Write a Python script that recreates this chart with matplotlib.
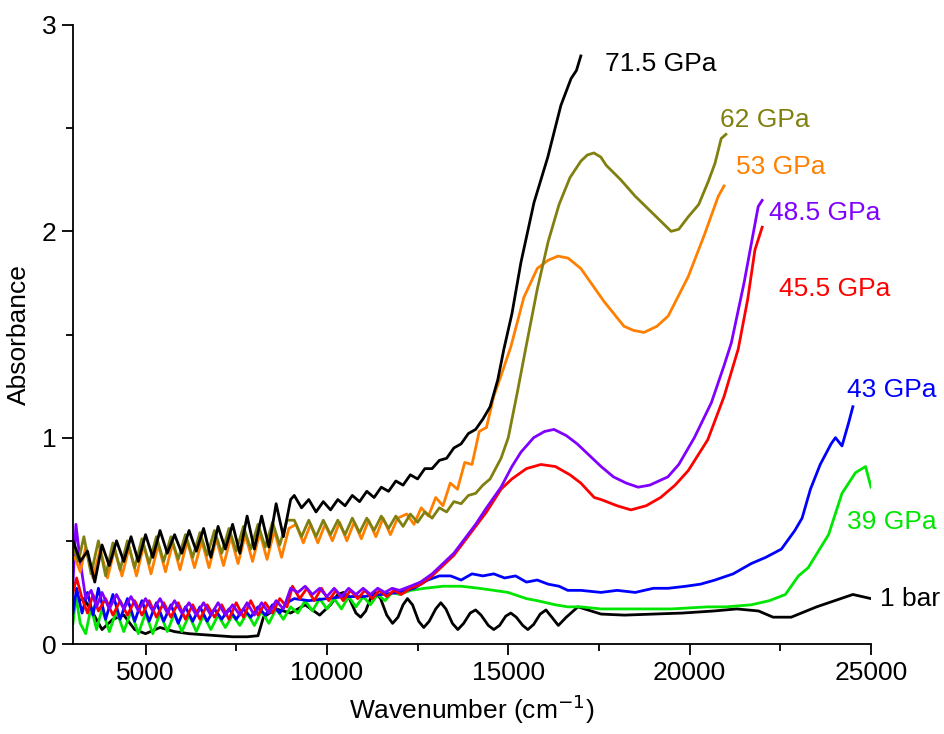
import matplotlib
matplotlib.use("Agg")
import matplotlib.pyplot as plt
from matplotlib.ticker import MultipleLocator

plt.rcParams['font.family'] = ['Liberation Sans', 'DejaVu Sans']

# ---------------- data ----------------
x_715 = [3000, 3200, 3400, 3600, 3800, 4000, 4200, 4400, 4600, 4800, 5000, 5200, 5400, 5600, 5800,
         6000, 6200, 6400, 6600, 6800, 7000, 7200, 7400, 7600, 7800, 8000, 8200, 8400, 8600, 8800,
         9000, 9100, 9300, 9500, 9700, 9900, 10100, 10300, 10500, 10700, 10900, 11100, 11300, 11500,
         11700, 11900, 12100, 12300, 12500, 12700, 12900, 13100, 13300, 13500, 13700, 13900, 14100,
         14300, 14500, 14710, 14880, 15100, 15350, 15710, 16090, 16450, 16730, 16880, 17000]
y_715 = [0.50, 0.40, 0.45, 0.30, 0.48, 0.38, 0.50, 0.40, 0.52, 0.40, 0.53, 0.42, 0.55, 0.44, 0.53,
         0.44, 0.55, 0.45, 0.56, 0.42, 0.57, 0.46, 0.58, 0.44, 0.62, 0.46, 0.62, 0.47, 0.68, 0.52,
         0.70, 0.72, 0.66, 0.70, 0.64, 0.69, 0.65, 0.70, 0.67, 0.72, 0.69, 0.74, 0.71, 0.76,
         0.74, 0.79, 0.77, 0.82, 0.80, 0.85, 0.85, 0.89, 0.90, 0.95, 0.97, 1.02, 1.04,
         1.09, 1.15, 1.28, 1.43, 1.60, 1.85, 2.14, 2.36, 2.61, 2.74, 2.78, 2.85]

x_62 = [3000, 3150, 3300, 3500, 3700, 3900, 4100, 4300, 4500, 4700, 4900, 5100, 5300, 5500, 5700,
        5900, 6100, 6300, 6500, 6700, 6900, 7100, 7300, 7500, 7700, 7900, 8100, 8300, 8500, 8700,
        8900, 9100, 9300, 9500, 9700, 9900, 10100, 10300, 10500, 10700, 10900, 11100, 11300, 11500,
        11700, 11900, 12100, 12300, 12500, 12700, 12900, 13100, 13300, 13500, 13700, 13900, 14100,
        14300, 14500, 14800, 15000, 15250, 15500, 15800, 16100, 16400, 16700, 17000, 17180, 17360,
        17550, 17700, 18100, 18500, 18850, 19200, 19490, 19700, 19960, 20250, 20510, 20700, 20870,
        21000]
y_62 = [0.47, 0.40, 0.52, 0.34, 0.50, 0.33, 0.49, 0.36, 0.50, 0.37, 0.51, 0.39, 0.52, 0.40, 0.52,
        0.41, 0.53, 0.42, 0.54, 0.43, 0.55, 0.44, 0.56, 0.45, 0.57, 0.46, 0.58, 0.47, 0.59, 0.48,
        0.60, 0.60, 0.52, 0.60, 0.52, 0.60, 0.53, 0.60, 0.53, 0.61, 0.54, 0.61, 0.55, 0.62,
        0.56, 0.62, 0.57, 0.63, 0.59, 0.64, 0.61, 0.66, 0.64, 0.69, 0.68, 0.72, 0.73,
        0.77, 0.80, 0.90, 1.00, 1.22, 1.45, 1.72, 1.95, 2.13, 2.26, 2.34, 2.37, 2.38,
        2.36, 2.32, 2.25, 2.17, 2.11, 2.05, 2.00, 2.01, 2.07, 2.13, 2.24, 2.33, 2.45,
        2.47]

x_53 = [3050, 3200, 3350, 3550, 3750, 3950, 4150, 4350, 4550, 4750, 4950, 5150, 5350, 5550, 5750,
        5950, 6150, 6350, 6550, 6750, 6950, 7150, 7350, 7550, 7750, 7950, 8150, 8350, 8550, 8750,
        8950, 9150, 9350, 9550, 9750, 9950, 10150, 10350, 10550, 10750, 10950, 11150, 11350, 11550,
        11750, 11950, 12200, 12400, 12600, 12800, 13000, 13200, 13400, 13600, 13800, 14000, 14200,
        14400, 14600, 14800, 15070, 15430, 15800, 16100, 16370, 16650, 17000, 17640, 18190, 18450,
        18740, 19100, 19410, 19960, 20400, 20790, 20950]
y_53 = [0.42, 0.35, 0.47, 0.32, 0.46, 0.32, 0.46, 0.33, 0.47, 0.33, 0.48, 0.34, 0.48, 0.35, 0.49,
        0.36, 0.50, 0.37, 0.50, 0.37, 0.51, 0.38, 0.52, 0.39, 0.53, 0.40, 0.54, 0.41, 0.55, 0.42,
        0.56, 0.58, 0.49, 0.58, 0.49, 0.58, 0.50, 0.59, 0.50, 0.59, 0.51, 0.60, 0.52, 0.61,
        0.53, 0.61, 0.63, 0.58, 0.66, 0.62, 0.71, 0.67, 0.78, 0.75, 0.88, 0.87, 1.03,
        1.05, 1.20, 1.30, 1.44, 1.68, 1.82, 1.86, 1.88, 1.87, 1.82, 1.66, 1.54, 1.52,
        1.51, 1.54, 1.59, 1.78, 1.98, 2.17, 2.22]

x_485 = [3000, 3080, 3200, 3350, 3500, 3650, 3800, 4000, 4200, 4400, 4600, 4800, 5000, 5200, 5400,
         5600, 5800, 6000, 6200, 6400, 6600, 6800, 7000, 7200, 7400, 7600, 7800, 8000, 8200, 8400,
         8600, 8800, 9000, 9200, 9400, 9600, 9800, 10000, 10200, 10400, 10600, 10800, 11000, 11200,
         11400, 11600, 11800, 12000, 12300, 12580, 12900, 13200, 13500, 13800, 14100, 14400, 14800,
         15100, 15350, 15700, 16000, 16260, 16600, 16900, 17200, 17560, 17900, 18250, 18580, 18900,
         19400, 19700, 20130, 20600, 20950, 21150, 21500, 21890, 22000]
y_485 = [0.30, 0.58, 0.40, 0.22, 0.26, 0.18, 0.25, 0.17, 0.24, 0.17, 0.23, 0.16, 0.22, 0.16, 0.22,
         0.15, 0.21, 0.15, 0.20, 0.14, 0.20, 0.14, 0.20, 0.14, 0.19, 0.14, 0.20, 0.14, 0.20, 0.15,
         0.21, 0.17, 0.27, 0.25, 0.28, 0.24, 0.27, 0.23, 0.27, 0.23, 0.27, 0.24, 0.27, 0.24,
         0.27, 0.25, 0.27, 0.26, 0.28, 0.30, 0.34, 0.39, 0.44, 0.51, 0.58, 0.66, 0.76,
         0.86, 0.93, 1.00, 1.03, 1.04, 1.01, 0.97, 0.92, 0.86, 0.81, 0.78, 0.76, 0.77,
         0.81, 0.87, 1.00, 1.17, 1.35, 1.46, 1.75, 2.12, 2.15]

x_455 = [3000, 3100, 3250, 3400, 3550, 3700, 3900, 4100, 4300, 4500, 4700, 4900, 5100, 5300, 5500,
         5700, 5900, 6100, 6300, 6500, 6700, 6900, 7100, 7300, 7500, 7700, 7900, 8100, 8300, 8500,
         8700, 8900, 9050, 9250, 9450, 9650, 9850, 10050, 10250, 10450, 10650, 10850, 11050, 11250,
         11450, 11650, 11850, 12050, 12300, 12600, 12900, 13200, 13500, 13800, 14100, 14400, 14800,
         15100, 15500, 15900, 16300, 16700, 17000, 17370, 17560, 18000, 18380, 18800, 19200, 19600,
         19960, 20500, 20950, 21340, 21600, 21800, 22000]
y_455 = [0.25, 0.32, 0.22, 0.15, 0.24, 0.16, 0.22, 0.14, 0.21, 0.14, 0.21, 0.14, 0.21, 0.13, 0.20,
         0.13, 0.20, 0.12, 0.19, 0.12, 0.19, 0.13, 0.19, 0.12, 0.20, 0.13, 0.21, 0.14, 0.20, 0.15,
         0.22, 0.18, 0.28, 0.22, 0.27, 0.21, 0.27, 0.21, 0.26, 0.21, 0.26, 0.22, 0.26, 0.22,
         0.26, 0.23, 0.26, 0.24, 0.27, 0.29, 0.33, 0.38, 0.43, 0.50, 0.57, 0.64, 0.75,
         0.80, 0.85, 0.87, 0.86, 0.82, 0.78, 0.71, 0.70, 0.67, 0.65, 0.67, 0.71, 0.77,
         0.84, 0.99, 1.20, 1.43, 1.67, 1.91, 2.02]

x_43 = [3000, 3100, 3250, 3400, 3550, 3700, 3900, 4100, 4300, 4500, 4700, 4900, 5100, 5300, 5500,
        5700, 5900, 6100, 6300, 6500, 6700, 6900, 7100, 7300, 7500, 7700, 7900, 8100, 8300, 8500,
        8700, 8900, 9100, 9500, 10000, 10500, 11000, 11500, 12000, 12400, 12780, 13100, 13410, 13700,
        14000, 14300, 14600, 14900, 15200, 15500, 15800, 16100, 16400, 16640, 17000, 17560, 18000,
        18500, 19000, 19410, 19900, 20300, 20700, 21200, 21700, 22100, 22530, 22900, 23100, 23330,
        23600, 23900, 24020, 24200, 24380, 24500]
y_43 = [0.15, 0.27, 0.15, 0.25, 0.14, 0.27, 0.12, 0.24, 0.12, 0.22, 0.11, 0.21, 0.11, 0.20, 0.11,
        0.19, 0.10, 0.18, 0.11, 0.18, 0.11, 0.17, 0.12, 0.17, 0.12, 0.17, 0.13, 0.18, 0.14, 0.19,
        0.15, 0.20, 0.22, 0.21, 0.22, 0.23, 0.23, 0.24, 0.25, 0.27, 0.31, 0.33, 0.33, 0.31,
        0.34, 0.33, 0.34, 0.32, 0.33, 0.30, 0.31, 0.29, 0.28, 0.26, 0.26, 0.25, 0.26,
        0.25, 0.27, 0.27, 0.28, 0.29, 0.31, 0.34, 0.39, 0.42, 0.46, 0.55, 0.61, 0.75,
        0.87, 0.97, 1.00, 0.96, 1.07, 1.15]

x_39 = [3000, 3080, 3200, 3350, 3500, 3650, 3800, 4000, 4200, 4400, 4600, 4800, 5000, 5200, 5400,
        5600, 5800, 6000, 6200, 6400, 6600, 6800, 7000, 7200, 7400, 7600, 7800, 8000, 8200, 8400,
        8600, 8800, 9000, 9200, 9400, 9600, 9800, 10000, 10200, 10400, 10600, 10800, 11000, 11200,
        11400, 11600, 11800, 12000, 12310, 12700, 13200, 13700, 14200, 14600, 14990, 15500, 15800,
        16300, 16640, 17000, 17560, 18500, 19500, 20500, 21000, 21700, 22200, 22640, 23000, 23270,
        23830, 24200, 24570, 24850, 25000]
y_39 = [0.10, 0.23, 0.10, 0.05, 0.18, 0.07, 0.17, 0.06, 0.16, 0.06, 0.16, 0.05, 0.15, 0.05, 0.15,
        0.06, 0.15, 0.06, 0.14, 0.06, 0.14, 0.07, 0.14, 0.08, 0.14, 0.09, 0.15, 0.09, 0.16, 0.10,
        0.17, 0.12, 0.18, 0.15, 0.21, 0.16, 0.22, 0.17, 0.22, 0.17, 0.23, 0.18, 0.23, 0.19,
        0.24, 0.21, 0.25, 0.24, 0.26, 0.27, 0.28, 0.28, 0.27, 0.26, 0.25, 0.22, 0.21,
        0.19, 0.18, 0.18, 0.17, 0.17, 0.17, 0.18, 0.18, 0.19, 0.21, 0.24, 0.33, 0.37,
        0.53, 0.73, 0.83, 0.86, 0.76]

x_1bar = [3000, 3300, 3550, 3800, 4100, 4400, 4700, 5000, 5400, 5800, 6200, 6600, 7000, 7400, 7800,
          8100, 8250, 8600, 9000, 9400, 9800, 10100, 10300, 10460, 10620, 10800, 10930, 11070, 11200,
          11340, 11480, 11650, 11810, 11960, 12100, 12220, 12360, 12530, 12670, 12820, 13000, 13140,
          13280, 13460, 13610, 13770, 13950, 14100, 14250, 14450, 14600, 14760, 14930, 15070, 15220,
          15400, 15540, 15700, 15880, 16040, 16200, 16380, 16600, 16920, 17560, 18200, 19000, 19800,
          20670, 21300, 21900, 22300, 22800, 23500, 24000, 24500, 25000]
y_1bar = [0.20, 0.22, 0.15, 0.07, 0.12, 0.14, 0.07, 0.05, 0.08, 0.06, 0.05, 0.045, 0.04, 0.035, 0.035,
          0.04, 0.13, 0.17, 0.15, 0.19, 0.14, 0.19, 0.24, 0.25, 0.22, 0.15, 0.13, 0.16, 0.22,
          0.25, 0.22, 0.14, 0.10, 0.13, 0.19, 0.22, 0.19, 0.11, 0.08, 0.11, 0.17, 0.20,
          0.17, 0.10, 0.07, 0.10, 0.15, 0.165, 0.14, 0.09, 0.07, 0.09, 0.135, 0.15, 0.13,
          0.09, 0.07, 0.095, 0.145, 0.165, 0.13, 0.09, 0.13, 0.18, 0.145, 0.14, 0.145, 0.15,
          0.16, 0.17, 0.16, 0.13, 0.13, 0.18, 0.21, 0.24, 0.22]

labels = ["71.5 GPa", "62 GPa", "53 GPa", "48.5 GPa", "45.5 GPa", "43 GPa", "39 GPa", "1 bar"]
colors = ["#000000", "#808010", "#ff8000", "#8000ff", "#ff0000", "#0000ff", "#00e600", "#000000"]
label_x = [17680, 20850, 21270, 22180, 22460, 24330, 24330, 25250]
label_y = [2.81, 2.54, 2.31, 2.09, 1.72, 1.23, 0.59, 0.22]

series = [(x_1bar, y_1bar), (x_39, y_39), (x_43, y_43), (x_455, y_455), (x_485, y_485),
          (x_53, y_53), (x_62, y_62), (x_715, y_715)]
series_colors = [colors[7], colors[6], colors[5], colors[4], colors[3], colors[2], colors[1], colors[0]]

# ---------------- figure ----------------
fig = plt.figure(figsize=(9.45, 7.34), dpi=100)
ax = fig.add_axes([73 / 945, 1 - 644 / 734, (871 - 73) / 945, (644 - 25) / 734])

for (xs, ys), c in zip(series, series_colors):
    ax.plot(xs, ys, color=c, lw=2.0, solid_joinstyle='round')

for t, c, lx, ly in zip(labels, colors, label_x, label_y):
    ax.text(lx, ly, t, color=c, fontsize=19, ha='left', va='center', clip_on=False)

ax.set_xlim(3000, 25000)
ax.set_ylim(0, 3)
ax.xaxis.set_major_locator(MultipleLocator(5000))
ax.xaxis.set_minor_locator(MultipleLocator(2500))
ax.yaxis.set_major_locator(MultipleLocator(1))
ax.yaxis.set_minor_locator(MultipleLocator(0.5))
ax.tick_params(which='major', direction='out', length=8, width=1.3, labelsize=19, pad=4)
ax.tick_params(which='minor', direction='out', length=5, width=1.3)
for s in ['top', 'right']:
    ax.spines[s].set_visible(False)
for s in ['left', 'bottom']:
    ax.spines[s].set_linewidth(1.3)

ax.set_xlabel("Wavenumber (cm$^{-1}$)", fontsize=19, labelpad=6)
ax.set_ylabel("Absorbance", fontsize=19, labelpad=8)

fig.savefig("out.png", dpi=100)
